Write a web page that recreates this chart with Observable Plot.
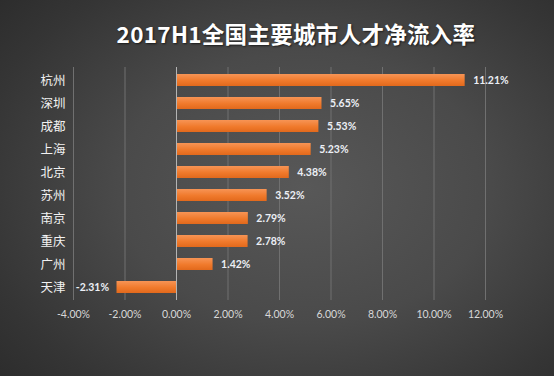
<!DOCTYPE html>
<html><head><meta charset="utf-8">
<script src="https://cdn.jsdelivr.net/npm/d3@7"></script>
<script src="https://cdn.jsdelivr.net/npm/@observablehq/plot@0.6"></script>
<style>
html,body{margin:0;padding:0;}
#wrap{position:relative;width:554px;height:376px;overflow:hidden;
background:radial-gradient(ellipse 75% 80% at 55% 50%, #585858 0%, #4a4a4a 45%, #353535 80%, #2b2b2b 100%);}
#title{position:absolute;left:0;width:554px;top:18px;text-align:center;padding-left:38px;box-sizing:border-box;
font-family:"Noto Sans CJK SC",sans-serif;font-weight:700;font-size:22.5px;color:#fff;letter-spacing:0.3px;
text-shadow:1px 1px 2px rgba(0,0,0,0.6);line-height:30px;}
#chart{position:absolute;left:0;top:0;}
</style></head>
<body>
<div id="wrap"><div id="title">2017H1全国主要城市人才净流入率</div><div id="chart"></div></div>
<script>
const cities = ["杭州","深圳","成都","上海","北京","苏州","南京","重庆","广州","天津"];
const rates = [11.21,5.65,5.53,5.23,4.38,3.52,2.79,2.78,1.42,-2.31];
const xTicks = [-4,-2,0,2,4,6,8,10,12];

const data = cities.map((c,i)=>({city:c, rate:rates[i]}));
const pos = data.filter(d=>d.rate>=0);
const neg = data.filter(d=>d.rate<0);
const fmt = d=>d.toFixed(2)+"%";

const plot = Plot.plot({
  width:554, height:376,
  marginTop:67, marginBottom:76, marginLeft:73, marginRight:69,
  style:{background:"transparent", color:"#dcdcdc", fontFamily:"Lato, 'Noto Sans CJK SC', sans-serif"},
  x:{domain:[-4,12], label:null},
  y:{domain:cities, paddingInner:0.5, paddingOuter:0.25, label:null},
  marks:[
    Plot.gridX(xTicks.filter(d=>d!==0), {stroke:"#707070", strokeOpacity:1, strokeWidth:1}),
    Plot.barX(data, {x:"rate", y:"city", fill:"url(#barGrad)", style:"filter:drop-shadow(1px 1.5px 1.2px rgba(0,0,0,0.55))"}),
    Plot.ruleX([0], {stroke:"#b4b4b4", strokeWidth:1}),
    Plot.text(pos, {x:"rate", y:"city", text:d=>fmt(d.rate), textAnchor:"start", dx:8, fill:"#eceff5", fontWeight:700, fontSize:10.5}),
    Plot.text(neg, {x:"rate", y:"city", text:d=>fmt(d.rate), textAnchor:"end", dx:-8, fill:"#eceff5", fontWeight:700, fontSize:10.5}),
    Plot.axisX(xTicks, {tickFormat:fmt, tickSize:0, tickPadding:10, fontSize:10.5, color:"#d8d8d8", label:null}),
    Plot.axisY({tickSize:0, tickPadding:8, fontSize:12.5, color:"#f2f2f2", fontFamily:"'Noto Sans CJK SC', sans-serif", label:null})
  ]
});
document.getElementById("chart").appendChild(plot);
const svg = d3.select(plot);
const defs = svg.insert("defs", ":first-child");
const g = defs.append("linearGradient").attr("id","barGrad").attr("x1",0).attr("y1",0).attr("x2",0).attr("y2",1);
g.append("stop").attr("offset","0%").attr("stop-color","#f79455");
g.append("stop").attr("offset","55%").attr("stop-color","#f07a2c");
g.append("stop").attr("offset","100%").attr("stop-color","#e2691c");
</script>
</body></html>
